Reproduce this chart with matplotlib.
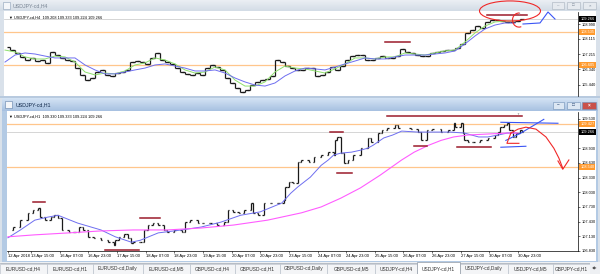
import numpy as np
import matplotlib
matplotlib.use("Agg")
import matplotlib.pyplot as plt
from matplotlib.patches import Rectangle, Ellipse, Arc
from matplotlib.collections import LineCollection
from matplotlib.colors import LinearSegmentedColormap

plt.rcParams['font.family'] = ['Liberation Sans', 'DejaVu Sans']

# ---- USDJPY H4 (top window) ----
h4_close = [107.65, 107.47, 107.30, 107.07, 106.89, 107.01, 106.83, 106.89, 106.72, 107.36,
            107.18, 107.01, 106.89, 106.83, 106.42, 106.02, 105.72, 105.84, 106.19, 106.31,
            106.02, 105.96, 106.13, 106.19, 106.31, 106.77, 106.83, 106.77, 106.66, 107.01,
            107.30, 106.89, 106.77, 106.66, 106.42, 106.19, 106.08, 106.02, 106.13, 106.02,
            106.42, 106.60, 106.48, 106.31, 105.84, 105.55, 105.26, 105.03, 105.14, 105.43,
            105.61, 105.72, 105.78, 105.96, 106.89, 106.77, 106.54, 106.42, 106.31, 106.31,
            106.42, 106.42, 105.96, 106.02, 106.19, 106.48, 106.31, 106.54, 106.89, 107.12,
            107.18, 107.18, 106.89, 106.89, 107.01, 107.12, 107.01, 107.01, 107.12, 107.53,
            107.36, 107.30, 107.18, 107.12, 107.12, 107.30, 107.36, 107.42, 107.47, 107.47,
            107.59, 107.83, 108.47, 108.64, 108.87, 108.76, 109.11, 109.22, 109.22, 109.16,
            109.11, 109.11, 109.16, 109.27]
h4_ma_fast = [107.47, 107.36, 107.07, 106.95, 106.95, 107.12, 107.07, 106.77, 106.19, 106.02,
              106.13, 106.08, 106.25, 106.60, 106.72, 107.01, 106.89, 106.66, 106.31, 106.13,
              106.19, 106.48, 106.31, 105.72, 105.37, 105.37, 105.61, 106.19, 106.54, 106.42,
              106.37, 106.25, 106.13, 106.37, 106.66, 107.01, 107.01, 106.95, 107.07, 107.07,
              107.30, 107.24, 107.18, 107.30, 107.42, 107.47, 107.94, 108.47, 108.87, 109.11,
              109.16, 109.16]
h4_ma_slow = [106.77, 107.18, 107.30, 107.24, 107.12, 107.01, 107.01, 107.01, 106.60, 106.31,
              106.08, 106.08, 106.19, 106.31, 106.42, 106.60, 106.66, 106.54, 106.42, 106.25,
              106.25, 106.31, 106.13, 105.84, 105.61, 105.43, 105.37, 105.55, 105.96, 106.25,
              106.42, 106.37, 106.31, 106.48, 106.66, 106.83, 107.01, 106.95, 106.95, 107.07,
              107.18, 107.18, 107.18, 107.24, 107.30, 107.42, 107.83, 108.29, 108.70, 108.93,
              109.05, 109.05]
h4_levels = [108.535, 106.605]
h4_bid = 109.266
h4_ticks = [108.990, 108.115, 107.215, 106.340, 105.440]
h4_info = '\u25bc USDJPY-cd,H4  109.208 109.333 109.224 109.266'
# drawn objects (bar index from, bar index to, price)
h4_sr = [(76, 81, 107.94), (96.4, 104.4, 109.51)]
h4_circle_big = (101, 109.75, 12.2, 1.17)
h4_circle_small = (102.8, 109.22, 2.6, 0.82)
h4_sketch_x = [103.6, 107, 108.6, 110]
h4_sketch_y = [108.99, 109.05, 109.69, 109.28]

# ---- USDJPY H1 (bottom window) ----
h1_bar = [0, 3, 7, 11, 14, 17, 18, 21, 24, 26, 28, 30, 34, 37, 40, 42, 45, 48, 52, 56,
          59, 60, 62, 65, 67, 69, 70, 74, 76, 78, 81, 84, 87, 89, 93, 97, 99, 102, 106, 109,
          113, 117, 121, 123, 126, 129, 132, 136, 137, 140, 143, 147, 151, 154, 155, 157, 159, 162, 164, 168,
          171, 175, 179, 182, 183, 184, 186, 188, 190, 193, 197, 201, 203, 207, 209, 212, 216, 218, 225, 229,
          231, 234, 237, 242, 246, 249, 250, 253, 254, 255, 257, 260, 264, 268, 272, 274, 275, 277, 279, 280,
          282, 284, 286, 287]
h1_close = [107.26, 107.32, 107.46, 107.61, 107.67, 107.71, 107.52, 107.46, 107.52, 107.56,
            107.50, 107.26, 107.22, 107.22, 107.32, 107.26, 107.12, 107.10, 107.05, 107.01,
            106.95, 107.05, 107.12, 107.18, 107.10, 106.99, 107.01, 107.01, 107.26, 107.36,
            107.40, 107.36, 107.26, 107.22, 107.26, 107.22, 107.42, 107.46, 107.40, 107.40,
            107.40, 107.36, 107.42, 107.67, 107.63, 107.61, 107.67, 107.81, 107.61, 107.56,
            107.81, 107.81, 107.81, 107.87, 108.14, 108.24, 108.22, 108.65, 108.69, 108.65,
            108.75, 108.79, 108.85, 108.79, 109.09, 109.16, 108.83, 108.63, 108.69, 108.79,
            108.93, 109.14, 109.05, 109.24, 109.30, 109.34, 109.40, 109.34, 109.32, 109.26,
            109.09, 109.30, 109.32, 109.26, 109.30, 109.44, 109.36, 109.44, 109.24, 109.09,
            109.05, 109.05, 109.09, 109.14, 109.20, 109.26, 109.36, 109.40, 109.44, 109.30,
            109.16, 109.24, 109.30, 109.27]
h1_fast_bar = [0, 7, 15, 22, 28, 39, 52, 60, 69, 74, 84, 97, 108, 119, 130, 141, 153, 158, 162, 169,
               175, 179, 182, 186, 192, 197, 201, 204, 210, 215, 220, 229, 238, 247, 255, 263, 268, 274, 279, 284]
h1_ma_fast = [107.10, 107.26, 107.46, 107.52, 107.56, 107.40, 107.26, 107.12, 107.01, 107.05,
              107.20, 107.26, 107.32, 107.42, 107.56, 107.63, 107.81, 108.01, 108.14, 108.34,
              108.58, 108.69, 108.79, 108.83, 108.85, 108.89, 108.93, 108.99, 109.14, 109.20,
              109.28, 109.26, 109.26, 109.26, 109.24, 109.16, 109.16, 109.20, 109.24, 109.24]
h1_slow_bar = [0, 15, 34, 52, 70, 89, 108, 126, 145, 164, 175, 186, 197, 208, 220, 227, 235, 242, 249,
               257, 268, 279, 285]
h1_ma_slow = [107.12, 107.16, 107.20, 107.24, 107.26, 107.26, 107.30, 107.36, 107.46, 107.61, 107.73,
              107.91, 108.12, 108.38, 108.69, 108.85, 108.99, 109.09, 109.16, 109.20, 109.22, 109.24, 109.24]
h1_levels = [109.427, 108.540]
h1_bid = 109.266
h1_ticks = [106.830, 107.130, 107.430, 107.730, 108.030, 108.330, 108.630, 108.930, 109.530]
h1_date_bar = [0, 13, 29, 45, 61, 77, 93, 109, 125, 141, 157, 173, 189, 205, 221, 237, 253, 269, 285]
h1_date_labels = ['12 Apr 2018', '13 Apr 15:00', '16 Apr 07:00', '16 Apr 23:00', '17 Apr 15:00',
                  '18 Apr 07:00', '18 Apr 23:00', '19 Apr 15:00', '20 Apr 07:00', '20 Apr 23:00',
                  '23 Apr 15:00', '24 Apr 07:00', '24 Apr 23:00', '25 Apr 15:00', '26 Apr 07:00',
                  '26 Apr 23:00', '27 Apr 15:00', '30 Apr 07:00', '30 Apr 23:00']
h1_info = '\u25bc USDJPY-cd,H1  109.330 109.333 109.224 109.266'
h1_sr = [(212, 287, 109.58), (180, 187, 109.26), (184, 192, 108.42), (227, 234, 108.97),
         (251, 270, 108.95), (14, 21, 107.83), (54, 73, 106.86), (74, 85, 107.50)]
h1_arrow_x = [281, 285, 289.4, 295, 300.6, 305, 307.8, 310]
h1_arrow_y = [109.24, 109.32, 109.36, 109.32, 109.16, 108.93, 108.73, 108.52]
h1_head_x = [307.3, 310, 313.4]
h1_head_y = [108.67, 108.50, 108.69]
h1_zig_x = [281, 278.8, 285.5]
h1_zig_y = [109.24, 109.03, 109.03]
h1_blue_lines = [([275.4, 307.3], [109.46, 109.44]),
                 ([278.2, 286.6, 299.4], [109.09, 109.24, 109.52]),
                 ([275.4, 289.4], [108.95, 108.97])]

tab_names = ['EURUSD-cd,H4', 'EURUSD-cd,H1', 'EURUSD-cd,Daily', 'EURUSD-cd,M5', 'GBPUSD-cd,H4',
             'GBPUSD-cd,H1', 'GBPUSD-cd,Daily', 'GBPUSD-cd,M5', 'USDJPY-cd,H4', 'USDJPY-cd,H1',
             'USDJPY-cd,Daily', 'USDJPY-cd,M5', 'GBPJPY-cd,H1']
tab_edges = [0, 47, 93, 143, 190, 235, 280, 327, 375, 417, 460, 508, 553, 590]
active_tab = 'USDJPY-cd,H1'

ORANGE = '#FFC68C'
ORANGE_BOX = '#FF9A2E'
DARKRED = '#9B1B2B'

W, H = 600, 274
fig = plt.figure(figsize=(6.0, 2.74), dpi=100)
bg = fig.add_axes([0, 0, 1, 1])
bg.axis('off')


def rect(x0, y0, x1, y1, fc, ec='none', lw=0.0, z=1):
    bg.add_patch(Rectangle((x0, y0), x1 - x0, y1 - y0, fc=fc, ec=ec, lw=lw, zorder=z))


def gradient(x0, y0, x1, y1, c_top, c_bot):
    cmap = LinearSegmentedColormap.from_list('g', [c_top, c_bot])
    bg.imshow(np.linspace(0, 1, 32)[:, None], cmap=cmap, aspect='auto',
              extent=[x0, x1, y1, y0], zorder=2)


def px_axes(x0, y0, x1, y1):
    return fig.add_axes([x0 / W, 1 - y1 / H, (x1 - x0) / W, (y1 - y0) / H])


# window chrome
rect(0, 0, 600, 274, '#D9E1EA', z=0)
gradient(0, 0, 600, 11, '#EBEFF4', '#D3DCE6')
rect(3, 2, 10, 9, '#F4F6F9', ec='#8CA0B8', lw=0.4, z=3)
bg.text(13, 5.6, 'USDJPY-cd,H4', fontsize=3.8, color='#7A8695', va='center', zorder=3)
for x0, x1, sym in [(552, 564, '\u2013'), (567, 580, '\u25a1'), (583, 596, '\u00d7')]:
    rect(x0, 1.5, x1, 8.8, '#E6EAEF', ec='#A8B2BE', lw=0.4, z=3)
    bg.text((x0 + x1) / 2, 5.2, sym, fontsize=3.2, color='#7A8695', ha='center', va='center', zorder=4)
rect(4, 11, 596, 96, 'white', z=2)
rect(0, 96, 600, 98, '#B8CADF', z=2)

rect(2, 98, 598, 262, '#B3CAE4', z=2)
gradient(2, 98, 598, 111, '#D4E3F4', '#A7C1E1')
rect(5, 100.5, 12, 108, '#F4F6F9', ec='#5F7FA8', lw=0.4, z=3)
bg.text(16, 104.8, 'USDJPY-cd,H1', fontsize=3.8, color='#10284A', va='center', zorder=3)
for x0, x1, sym, fc, tc in [(553, 564, '\u2013', '#DCE7F3', '#33507A'),
                            (567, 580, '\u25a1', '#DCE7F3', '#33507A'),
                            (582, 596, '\u00d7', '#C9514A', 'white')]:
    rect(x0, 101.5, x1, 108.5, fc, ec='#6F8FB5', lw=0.4, z=3)
    bg.text((x0 + x1) / 2, 105, sym, fontsize=3.4, color=tc, ha='center', va='center',
            fontweight='bold', zorder=4)
rect(7, 111, 596, 261, 'white', z=2)

# tab bar
rect(0, 262, 600, 274, '#EEF0F3', z=2)
bg.plot([0, 600], [262.5, 262.5], color='#A0A8B2', lw=0.5, zorder=3)
for k, name in enumerate(tab_names):
    x0, x1 = tab_edges[k], tab_edges[k + 1]
    if name == active_tab:
        rect(x0, 262, x1, 274, 'white', ec='#8E98A4', lw=0.5, z=4)
    else:
        rect(x0, 263.5, x1, 274, '#F4F5F7', ec='#B4BCC6', lw=0.4, z=3)
    bg.text((x0 + x1) / 2, 268.8, name, fontsize=3.5, color='#333333', ha='center', va='center',
            zorder=5, clip_on=True)
rect(590, 263, 600, 274, '#EEF0F3', z=6)
bg.text(595, 268.6, '\u25c0\u25b6', fontsize=2.6, color='#555555', ha='center', va='center', zorder=7)

bg.set_xlim(0, W)
bg.set_ylim(H, 0)


def draw_bars(ax, xs, closes, half):
    segs = []
    for k in range(1, len(closes)):
        x, o, c = xs[k], closes[k - 1], closes[k]
        segs.append([(x, o), (x, c)])
        segs.append([(x - half, o), (x, o)])
        segs.append([(x, c), (x + half, c)])
    ax.add_collection(LineCollection(segs, colors='#1A1A1A', linewidths=0.9, zorder=4))


def price_box(ax, price, fc):
    ax.text(1.004, price, f'{price:.3f}', transform=ax.get_yaxis_transform(), ha='left',
            va='center', fontsize=2.8, color='white', zorder=6, clip_on=False,
            bbox=dict(boxstyle='square,pad=0.25', fc=fc, ec='none'))


def style_axes(ax, ticks):
    for s in ['left', 'top']:
        ax.spines[s].set_visible(False)
    ax.spines['right'].set_linewidth(0.5)
    ax.yaxis.tick_right()
    ax.set_yticks(ticks)
    ax.set_yticklabels([f'{t:.3f}' for t in ticks])
    ax.tick_params(axis='y', length=1.5, width=0.4, pad=1, labelsize=2.8)
    ax.set_facecolor('white')


# ---- top chart ----
ax1 = px_axes(4, 12, 578, 96)
style_axes(ax1, h4_ticks)
ax1.spines['bottom'].set_visible(False)
ax1.set_xticks([])
ax1.set_xlim(-0.2, 114.6)
ax1.set_ylim(104.79, 109.69)
for lvl in h4_levels:
    ax1.axhline(lvl, color=ORANGE, lw=0.9, zorder=1)
    price_box(ax1, lvl, ORANGE_BOX)
ax1.axhline(h4_bid, color='#CFCFCF', lw=0.6, zorder=1)
price_box(ax1, h4_bid, 'black')
x4 = np.arange(len(h4_close))
draw_bars(ax1, x4, h4_close, 0.7)
xm = np.arange(len(h4_ma_fast)) * 2
ax1.plot(xm, h4_ma_fast, color='#8EE06E', lw=0.7, zorder=5)
ax1.plot(xm, h4_ma_slow, color='#6E6EF0', lw=0.7, zorder=5)
for a, b, p in h4_sr:
    ax1.plot([a, b], [p, p], color=DARKRED, lw=1.1, zorder=6, clip_on=False)
cx, cy, cw, ch = h4_circle_big
ax1.add_patch(Ellipse((cx, cy), cw, ch, fill=False, ec='#F02828', lw=0.8, zorder=7, clip_on=False))
cx, cy, cw, ch = h4_circle_small
ax1.add_patch(Arc((cx, cy), cw, ch, theta1=70, theta2=320, ec='#F02828', lw=0.8, zorder=7, clip_on=False))
ax1.plot(h4_sketch_x, h4_sketch_y, color='#3A55F5', lw=0.8, zorder=7, clip_on=False)
ax1.text(0.008, 0.955, h4_info, transform=ax1.transAxes, fontsize=2.8, va='top', zorder=8)
ax1.text(0.897, 0.995, '\u25bc', transform=ax1.transAxes, fontsize=2.2, color='#999999',
         ha='center', va='top', zorder=8)

# ---- bottom chart ----
ax2 = px_axes(7, 112, 578, 251)
style_axes(ax2, h1_ticks)
ax2.spines['bottom'].set_linewidth(0.5)
ax2.set_xlim(-0.5, 318.5)
ax2.set_ylim(106.83, 109.67)
ax2.set_xticks(h1_date_bar)
ax2.set_xticklabels(h1_date_labels)
for lab in ax2.get_xticklabels():
    lab.set_horizontalalignment('left')
ax2.tick_params(axis='x', length=1.5, width=0.4, pad=0.8, labelsize=3.0)
for lvl in h1_levels:
    ax2.axhline(lvl, color=ORANGE, lw=0.9, zorder=1)
    price_box(ax2, lvl, ORANGE_BOX)
ax2.axhline(h1_bid, color='#CFCFCF', lw=0.6, zorder=1)
price_box(ax2, h1_bid, 'black')
draw_bars(ax2, h1_bar, h1_close, 0.8)
ax2.plot(h1_fast_bar, h1_ma_fast, color='#6E6EF0', lw=0.7, zorder=5)
ax2.plot(h1_slow_bar, h1_ma_slow, color='#FF5CFF', lw=0.8, zorder=5)
for a, b, p in h1_sr:
    ax2.plot([a, b], [p, p], color=DARKRED, lw=1.1, zorder=6, clip_on=False)
for xs, ys in h1_blue_lines:
    ax2.plot(xs, ys, color='#3A55F5', lw=0.8, zorder=7)
ax2.plot(h1_arrow_x, h1_arrow_y, color='#F02828', lw=0.8, zorder=7)
ax2.plot(h1_head_x, h1_head_y, color='#F02828', lw=0.8, zorder=7)
ax2.plot(h1_zig_x, h1_zig_y, color='#F02828', lw=0.8, zorder=7)
ax2.text(0.004, 0.985, h1_info, transform=ax2.transAxes, fontsize=2.8, va='top', zorder=8)
ax2.text(0.895, 0.998, '\u25bc', transform=ax2.transAxes, fontsize=2.2, color='#999999',
         ha='center', va='top', zorder=8)

fig.savefig('out.png', dpi=100)
